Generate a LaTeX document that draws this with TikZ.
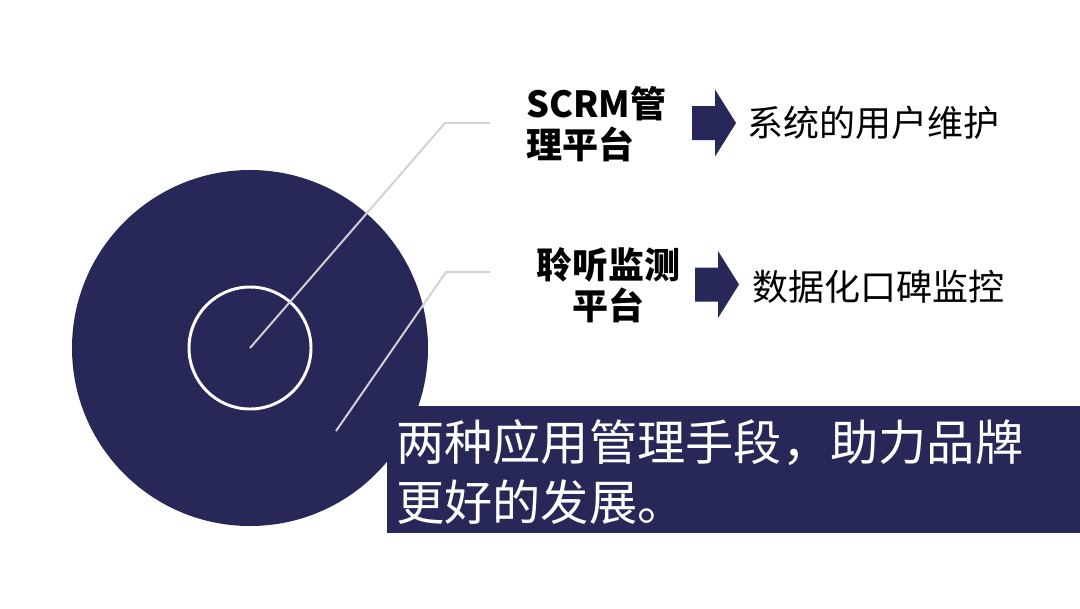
\documentclass[tikz,border=0pt]{standalone}
\usepackage{fontspec}
\newfontfamily\cjk{Noto Sans CJK SC}
\usetikzlibrary{calc}
\definecolor{navy}{RGB}{39,40,88}
\definecolor{guide}{RGB}{210,210,210}
\def\navyarrow(#1)(#2){\fill[navy] ($(#1)+(0,-#2)$) -- ++(23,0) -- ++(0,-16.5) -- ++(21,33.5) -- ++(-21,33.5) -- ++(0,-16.5) -- ++(-23,0) -- cycle;}

\begin{document}
\begin{tikzpicture}[x=0.025cm, y=-0.025cm, font=\cjk]
			%%%%% START %%%%%
			\useasboundingbox (0, 0) rectangle (1080, 608);
			
			\fill[navy] (250, 348) circle (178);
			\draw[white, line width=2.1pt] (250, 348) circle (61);
			\coordinate (hub) at (250, 348);
			
			\coordinate (bendA) at (445, 123);
			\coordinate (endA) at (490, 123);
			\coordinate (footB) at (336, 431);
			\coordinate (bendB) at (446, 272);
			\coordinate (endB) at (490, 272);
			\draw[guide, line width=1.4pt] (hub) -- (bendA) -- (endA);
			\draw[guide, line width=1.4pt] (footB) -- (bendB) -- (endB);
			
			\node[anchor=west, align=left, inner sep=0, font=\cjk\bfseries\fontsize{25.6}{29.5}\selectfont] (scrm) at (526, 124) {SCRM管\\理平台};
			\node[align=center, inner sep=0, font=\cjk\bfseries\fontsize{25.6}{29.5}\selectfont] (listen) at (608, 285) {聆听监测\\平台};
			
			\navyarrow(692, 123)(17)
			\navyarrow(695, 284.5)(17)
			
			\node[anchor=west, inner sep=0, font=\cjk\fontsize{25.6}{30}\selectfont] (userkeep) at (747, 123) {系统的用户维护};
			\node[anchor=west, inner sep=0, font=\cjk\fontsize{25.6}{30}\selectfont] (wordmouth) at (752, 287) {数据化口碑监控};
			
			\fill[navy] (387, 406) rectangle (1080, 533);
			\node[anchor=west, align=left, inner sep=0, text=white, font=\cjk\fontsize{34.3}{42.5}\selectfont] (summary) at (396, 472) {两种应用管理手段，助力品牌\\更好的发展。};
			
			%%%%% END %%%%%
		\end{tikzpicture}
\end{document}
